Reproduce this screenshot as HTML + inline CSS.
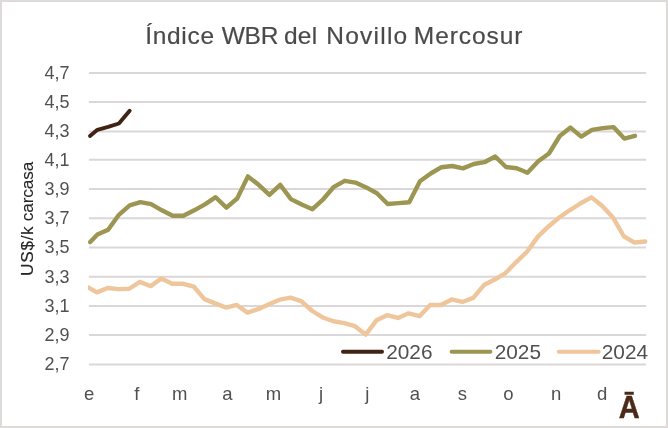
<!DOCTYPE html>
<html><head><meta charset="utf-8"><title>Índice WBR del Novillo Mercosur</title>
<style>
html,body{margin:0;padding:0;background:#fff;}
body{width:668px;height:428px;overflow:hidden;}
svg{display:block;will-change:transform;}
text{font-family:'Liberation Sans', Arial, sans-serif;}
</style></head>
<body>
<svg width="668" height="428" viewBox="0 0 668 428">
<defs><clipPath id="pc"><rect x="88" y="40" width="570" height="340"/></clipPath></defs>
<rect x="0" y="0" width="668" height="428" fill="#fff"/>
<rect x="1" y="1" width="666" height="426" fill="none" stroke="#dedada" stroke-width="2"/>
<text y="43.6" font-size="24.5" fill="#4a4a4a" stroke="#4a4a4a" stroke-width="0.2"><tspan x="145.2" textLength="68.89" lengthAdjust="spacing">Índice</tspan> <tspan x="221.7" textLength="56.67" lengthAdjust="spacing">WBR</tspan> <tspan x="283.9" textLength="33.2" lengthAdjust="spacing">del</tspan> <tspan x="326.2" textLength="81.03" lengthAdjust="spacing">Novillo</tspan> <tspan x="413.8" textLength="108.61" lengthAdjust="spacing">Mercosur</tspan></text>
<g stroke="#dbd7d9" stroke-width="2" fill="none">
<line x1="88.9" y1="73.10" x2="646.1" y2="73.10"/>
<line x1="88.9" y1="102.10" x2="646.1" y2="102.10"/>
<line x1="88.9" y1="131.50" x2="646.1" y2="131.50"/>
<line x1="88.9" y1="159.80" x2="646.1" y2="159.80"/>
<line x1="88.9" y1="189.00" x2="646.1" y2="189.00"/>
<line x1="88.9" y1="218.35" x2="646.1" y2="218.35"/>
<line x1="88.9" y1="247.60" x2="646.1" y2="247.60"/>
<line x1="88.9" y1="276.80" x2="646.1" y2="276.80"/>
<line x1="88.9" y1="306.05" x2="646.1" y2="306.05"/>
<line x1="88.9" y1="335.05" x2="646.1" y2="335.05"/>
<line x1="88.9" y1="364.50" x2="646.1" y2="364.50"/>
</g>
<g font-size="17.5" fill="#505050" text-anchor="end">
<text x="69.6" y="78.85" textLength="25" lengthAdjust="spacingAndGlyphs">4,7</text>
<text x="69.6" y="107.85" textLength="25" lengthAdjust="spacingAndGlyphs">4,5</text>
<text x="69.6" y="137.25" textLength="25" lengthAdjust="spacingAndGlyphs">4,3</text>
<text x="69.6" y="165.55" textLength="25" lengthAdjust="spacingAndGlyphs">4,1</text>
<text x="69.6" y="194.75" textLength="25" lengthAdjust="spacingAndGlyphs">3,9</text>
<text x="69.6" y="224.10" textLength="25" lengthAdjust="spacingAndGlyphs">3,7</text>
<text x="69.6" y="253.35" textLength="25" lengthAdjust="spacingAndGlyphs">3,5</text>
<text x="69.6" y="282.55" textLength="25" lengthAdjust="spacingAndGlyphs">3,3</text>
<text x="69.6" y="311.80" textLength="25" lengthAdjust="spacingAndGlyphs">3,1</text>
<text x="69.6" y="340.80" textLength="25" lengthAdjust="spacingAndGlyphs">2,9</text>
<text x="69.6" y="370.25" textLength="25" lengthAdjust="spacingAndGlyphs">2,7</text>
</g>
<g font-size="18.5" fill="#505050" text-anchor="middle">
<text x="89.2" y="399.8">e</text>
<text x="136.8" y="399.8">f</text>
<text x="179.8" y="399.8">m</text>
<text x="227.4" y="399.8">a</text>
<text x="273.5" y="399.8">m</text>
<text x="321.1" y="399.8">j</text>
<text x="367.2" y="399.8">j</text>
<text x="414.8" y="399.8">a</text>
<text x="462.4" y="399.8">s</text>
<text x="508.5" y="399.8">o</text>
<text x="556.1" y="399.8">n</text>
<text x="602.2" y="399.8">d</text>
</g>
<text transform="translate(33.2,274.9) rotate(-90)" font-size="17.2" fill="#262626" stroke="#262626" stroke-width="0.12"><tspan x="-1" textLength="49.61" lengthAdjust="spacing">US$/k</tspan> <tspan x="53.6" textLength="59.59" lengthAdjust="spacing">carcasa</tspan></text>
<g fill="none" stroke-width="4.4" stroke-linejoin="round" stroke-linecap="round">
<polyline stroke="#efc69b" clip-path="url(#pc)" points="80.00,282.85 96.90,292.35 107.65,287.95 118.40,289.15 129.16,288.75 139.91,281.95 150.66,286.15 161.41,278.55 172.16,283.75 182.92,283.75 193.67,286.55 204.42,299.15 215.17,303.35 225.92,307.55 236.68,304.95 247.43,312.65 258.18,309.15 268.93,304.25 279.68,299.65 290.44,297.65 301.19,301.15 311.94,310.75 322.69,317.45 333.44,321.25 344.20,323.05 354.95,326.15 365.70,334.55 376.45,320.35 387.20,315.15 397.96,317.95 408.71,313.35 419.46,316.15 430.21,304.95 440.96,304.95 451.72,299.45 462.47,301.95 473.22,297.85 483.97,285.05 494.72,279.55 505.48,273.05 516.23,262.05 526.98,251.75 537.73,236.85 548.48,226.45 559.24,217.55 569.99,210.05 580.74,203.25 591.49,197.35 602.24,206.05 613.00,217.45 623.75,236.25 634.50,242.55 645.25,241.55"/>
<polyline stroke="#9c9652" points="90.20,242.10 97.40,234.50 108.15,229.70 118.90,214.80 129.66,205.40 140.41,202.20 151.16,204.20 161.91,210.30 172.66,215.70 183.42,215.70 194.17,210.30 204.92,204.30 215.67,197.20 226.42,207.70 237.18,198.50 247.93,176.40 258.68,184.80 269.43,194.90 280.18,184.80 290.94,199.10 301.69,204.50 312.44,209.20 323.19,199.30 333.94,186.80 344.70,180.80 355.45,182.60 366.20,187.40 376.95,193.20 387.70,204.00 398.46,203.10 409.21,202.30 419.96,181.20 430.71,173.50 441.46,167.20 452.22,166.00 462.97,168.40 473.72,164.00 484.47,162.20 495.22,156.50 505.98,167.00 516.73,168.20 527.48,172.70 538.23,161.20 548.98,153.50 559.74,136.00 570.49,127.60 581.24,136.60 591.99,129.90 602.74,128.10 613.50,127.10 624.25,138.60 635.00,135.80"/>
<polyline stroke="#402314" stroke-width="3.9" points="90.00,135.90 97.40,129.80 108.15,126.80 118.90,123.50 129.66,110.80"/>
</g>
<g stroke-width="4" stroke-linecap="round">
<line x1="343" y1="351.8" x2="382" y2="351.8" stroke="#402314"/>
<line x1="451.6" y1="351.8" x2="490.4" y2="351.8" stroke="#9c9652"/>
<line x1="558.8" y1="351.8" x2="598.7" y2="351.8" stroke="#efc69b"/>
</g>
<g font-size="20.8" fill="#505050">
<text x="386.2" y="358.9">2026</text>
<text x="494.7" y="358.9">2025</text>
<text x="601.8" y="358.9">2024</text>
</g>
<text transform="translate(629.2,418) scale(1,1.09)" font-size="29" font-weight="bold" fill="#4a2a18" stroke="#4a2a18" stroke-width="0.45" text-anchor="middle">Ā</text>
</svg>
</body></html>
